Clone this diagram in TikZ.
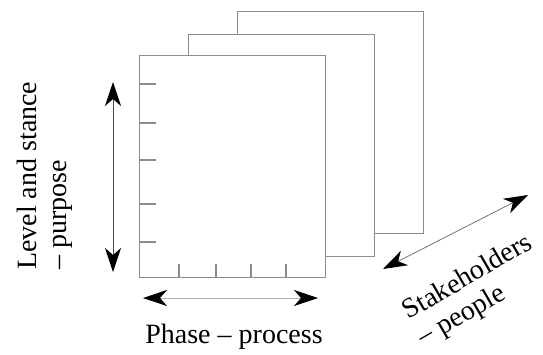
\documentclass[tikz,border=0pt]{standalone}
\usepackage{fontspec}
\setmainfont{Liberation Serif}
\usetikzlibrary{arrows.meta}
\tikzset{
  sheet/.style={draw=black!45, line width=1.3pt, fill=white, rectangle, inner sep=0pt, anchor=north west,
    minimum width=186pt, minimum height=222pt},
  tick/.style={draw=black!45, line width=1.3pt},
  headtip/.tip={Stealth[length=24pt,width=16pt,inset=7pt,color=black]},
  axisarrow/.style={headtip-headtip},
  lbl/.style={font=\fontsize{28}{30}\selectfont, inner sep=0pt, text=black}
}
\begin{document}
\begin{tikzpicture}[x=1pt,y=-1pt]
\useasboundingbox (0,0) rectangle (543,354);
% sheets, back to front
\node[sheet] (back) at (237,11) {};
\node[sheet] (mid) at (188,34) {};
\node[sheet] (front) at (139,55) {};
% left ticks
\foreach \yy in {84,123,160,204,242}
  \draw[tick] (139,\yy) -- ++(17,0);
% bottom ticks
\foreach \xx in {179,216,251,286}
  \draw[tick] (\xx,277) -- ++(0,-13);
% arrows
\coordinate (vtop) at (113,82);
\coordinate (vbot) at (113,272);
\coordinate (hl) at (143,298);
\coordinate (hr) at (318,298);
\coordinate (dl) at (383,269);
\coordinate (du) at (528,195);
\draw[axisarrow, draw=black!70, line width=1pt] (vtop) -- (vbot);
\draw[axisarrow, draw=black!30, line width=0.7pt] (hl) -- (hr);
\draw[axisarrow, draw=black!55, line width=0.8pt] (dl) -- (du);
% labels
\node[lbl, rotate=90, align=left, anchor=north west] (lev) at (17,270) {Level and stance\\-- purpose};
\node[lbl, anchor=base] (phase) at (234,343) {Phase -- process};
\node[lbl, rotate=30, align=left, anchor=north west] (stake) at (399,303) {Stakeholders\\-- people};
\end{tikzpicture}
\end{document}
